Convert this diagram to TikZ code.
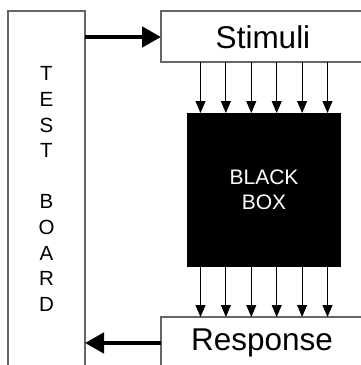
\documentclass[tikz,border=0pt]{standalone}
\usepackage{fontspec}
\setmainfont{Liberation Sans}
\usetikzlibrary{arrows.meta, positioning, calc}
\tikzset{
    boxline/.style={draw=black!60, line width=1.3pt, fill=white, inner sep=0pt, outer sep=0pt},
    pin/.style={-{Triangle[length=12pt,width=10pt]}, line width=0.9pt},
    bus/.style={-{Triangle[length=19pt,width=20pt]}, line width=4.5pt},
}

\begin{document}
\begin{tikzpicture}[x=1pt, y=-1pt]
    \useasboundingbox (0,0) rectangle (361,365);
    \clip (0,0) rectangle (361,365);
    \def \pitch {25.4}
    % test board, open at the bottom
    \node[boxline, minimum width=77pt, minimum height=400pt, anchor=north west] (board) at (8,11) {};
    \node[font=\fontsize{20.5}{25.6}\selectfont, align=center] (boardtxt) at (46.5,189)
        {T\\E\\S\\T\\[25.6pt]B\\O\\A\\R\\D};
    % stimuli and response strips
    \node[boxline, minimum width=240pt, minimum height=51pt, anchor=north west] (stim) at (161,11) {};
    \node[font=\fontsize{31.5}{31.5}\selectfont] (stimtxt) at (263,37) {Stimuli};
    \node[boxline, minimum width=240pt, minimum height=80pt, anchor=north west] (resp) at (161,317) {};
    \node[font=\fontsize{31.5}{31.5}\selectfont] (resptxt) at (262,343) {Response};
    % the box itself
    \node[fill=black, minimum width=154pt, minimum height=154pt, inner sep=0pt, outer sep=0pt,
          text=white, align=center, font=\fontsize{21}{25}\selectfont] (bb) at (264,190) {BLACK\\BOX};
    % pins in and out
    \foreach \i in {-2.5,-1.5,...,2.5}{
        \pgfmathsetmacro{\x}{264+\i*\pitch}
        \draw[pin] (\x,0 |- stim.south) -- (\x,0 |- bb.north);
        \draw[pin] (\x,0 |- bb.south) -- (\x,0 |- resp.north);
    }
    % board links
    \draw[bus] (board.east |- stimtxt) -- (stim.west |- stimtxt);
    \draw[bus] (resp.west |- resptxt) -- (board.east |- resptxt);
\end{tikzpicture}
\end{document}
